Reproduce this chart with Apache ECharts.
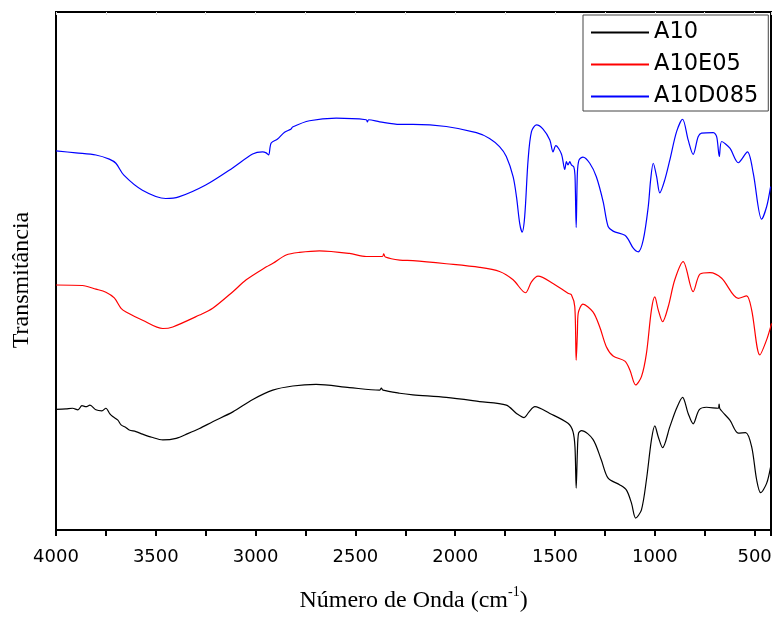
<!DOCTYPE html>
<html>
<head>
<meta charset="utf-8">
<script src="https://cdn.jsdelivr.net/npm/echarts@6/dist/echarts.min.js"></script>
<style>
html,body{margin:0;padding:0;background:#fff;}
#chart{width:774px;height:617px;}
</style>
</head>
<body>
<div id="chart"></div>
<script>
// Wavenumber (cm-1) and transmittance (arbitrary, offset)
const seriesNames = ['A10', 'A10E05', 'A10D085'];
const seriesColors = ['#000000', '#ff0000', '#0000ff'];
const xTickLabels = [4000, 3500, 3000, 2500, 2000, 1500, 1000, 500];

const a10Wn = [4000,3950,3917,3890,3870,3850,3830,3800,3770,3750,3730,3716,3690,3674,3650,3633,3600,3566,3520,3465,3398,3340,3281,3215,3114,3014,2914,2814,2697,2530,2379,2370,2362,2278,2212,2045,1878,1744,1693,1655,1630,1601,1526,1435,1410,1400,1394,1388,1382,1367,1310,1268,1234,1175,1142,1117,1096,1067,1042,1017,1000,983,961,925,891,861,833,808,778,741,683,678,674,624,582,545,515,490,470,440,420];
const a10T  = [23.3,23.4,23.5,23.2,24.0,23.8,24.1,23.2,23.0,23.5,22.4,21.9,21.2,20.3,19.8,19.3,19.0,18.5,17.9,17.4,17.7,18.6,19.6,20.9,22.8,25.2,27.0,27.8,28.1,27.5,27.0,27.4,27.0,26.4,26.1,25.6,24.8,24.1,22.5,21.7,22.8,23.8,22.5,20.6,19.0,16.0,8.1,15.0,18.7,19.2,17.5,13.5,10.0,8.7,7.7,5.2,2.3,3.9,9.7,17.4,20.1,18.0,15.9,19.9,23.5,25.6,22.5,20.5,23.2,23.7,23.5,24.3,23.4,21.2,18.7,18.8,16.1,9.7,7.2,9.0,12.2];

const a10e05Wn = [4000,3868,3800,3750,3708,3674,3649,3566,3465,3415,3281,3215,3114,3047,2946,2913,2847,2780,2680,2530,2446,2365,2358,2350,2278,2212,2045,1878,1778,1710,1648,1618,1585,1510,1435,1418,1401,1394,1388,1384,1360,1310,1276,1243,1209,1150,1125,1096,1067,1042,1017,1000,983,961,933,900,858,808,774,724,665,582,540,515,474,440,415];
const a10e05T  = [47.3,47.2,46.5,45.9,44.8,42.8,42.1,40.5,38.9,39.2,41.5,42.8,46.0,48.3,50.8,51.5,53.1,53.6,53.9,53.4,52.8,52.8,53.3,52.7,52.1,52.0,51.4,50.7,49.9,48.3,45.8,47.9,49.0,47.6,45.7,45.4,43.1,32.8,38.0,41.8,43.6,42.1,39.2,35.4,33.6,32.6,30.9,28.0,29.6,34.1,42.5,45.0,42.5,40.2,43.1,48.3,51.8,46.0,49.4,49.7,48.6,44.7,45.2,42.5,33.8,36.7,39.9];

const a10d085Wn = [4000,3900,3800,3733,3700,3660,3567,3450,3385,3250,3115,3015,2965,2947,2935,2922,2890,2855,2822,2815,2730,2596,2446,2440,2434,2378,2278,2212,2045,1894,1828,1778,1744,1710,1693,1677,1665,1652,1635,1618,1593,1560,1526,1510,1496,1468,1451,1443,1435,1426,1418,1406,1400,1394,1388,1380,1360,1326,1293,1259,1234,1209,1150,1133,1108,1083,1058,1033,1021,1008,991,975,950,925,891,861,833,808,783,766,707,690,677,665,624,582,536,507,465,440,420];
const a10d085T  = [73.2,72.8,72.4,71.6,70.8,68.5,65.6,64.0,64.3,66.6,69.9,72.6,73.0,72.8,72.4,74.7,75.5,76.8,77.4,77.8,79.0,79.5,79.2,78.8,79.2,78.8,78.3,78.3,77.9,76.7,75.6,74.0,72.1,68.2,64.3,59.2,57.5,60.5,71.4,76.9,78.2,77.4,75.3,73.0,74.2,72.6,69.6,71.1,70.5,71.1,70.5,70.1,68.5,58.4,68.9,71.4,72.0,70.8,68.2,63.4,58.6,57.7,56.9,56.1,54.4,53.7,56.0,62.4,67.6,70.8,68.2,65.1,67.6,71.4,76.9,79.3,75.3,72.5,75.9,76.6,76.7,75.9,72.1,75.0,73.7,70.9,73.0,68.9,60.0,62.4,66.3];

function pairs(xs, ys) { return xs.map((x, i) => [x, ys[i]]); }

const chart = echarts.init(document.getElementById('chart'), null, {renderer: 'canvas'});

const allWn = [a10Wn, a10e05Wn, a10d085Wn];
const allT = [a10T, a10e05T, a10d085T];

const series = seriesNames.map((name, i) => ({
  name: name,
  type: 'line',
  data: pairs(allWn[i], allT[i]),
  symbol: 'none',
  smooth: 0.3,
  lineStyle: {color: seriesColors[i], width: 1.2},
  itemStyle: {color: seriesColors[i]},
  z: 3
}));

chart.setOption({
  backgroundColor: '#ffffff',
  animation: false,
  grid: {left: 56, right: 3, top: 12, bottom: 87, show: true, borderColor: '#000', borderWidth: 2,
         containLabel: false, outerBoundsMode: 'none'},
  legend: {
    orient: 'vertical',
    left: 583, top: 15,
    padding: [6, 10, 3, 7],
    itemWidth: 58, itemHeight: 22, itemGap: 9, itemTextGap: 7,
    borderColor: '#444', borderWidth: 1, backgroundColor: '#fff',
    itemStyle: {opacity: 0, color: 'rgba(0,0,0,0)', borderWidth: 0},
    textStyle: {fontFamily: 'DejaVu Sans', fontSize: 22.5, color: '#000'},
    data: seriesNames.map(n => ({name: n}))
  },
  xAxis: [{
    type: 'value', inverse: true, min: 418, max: 4000, splitNumber: 7,
    name: '{a|Número de Onda (cm}{s|-1}{a|)}',
    nameLocation: 'middle', nameGap: 55,
    nameTextStyle: {rich: {
      a: {fontFamily: 'Liberation Serif', fontSize: 24, color: '#000', lineHeight: 28, verticalAlign: 'bottom'},
      s: {fontFamily: 'Liberation Serif', fontSize: 14, color: '#000', lineHeight: 28, verticalAlign: 'top', padding: [0, 0, 12, 0]}
    }},
    axisLine: {show: true, lineStyle: {color: '#000', width: 2}},
    axisTick: {show: true, inside: false, length: 6, lineStyle: {color: '#000', width: 2}},
    minorTick: {show: true, splitNumber: 2, length: 6, lineStyle: {color: '#000', width: 2}},
    splitLine: {show: false},
    axisLabel: {
      fontFamily: 'DejaVu Sans', fontSize: 18, color: '#000', margin: 18,
      formatter: v => (xTickLabels.indexOf(v) >= 0 ? String(v) : '')
    }
  }, {
    type: 'value', inverse: true, min: 418, max: 4000, splitNumber: 7, position: 'top',
    axisLine: {show: false},
    axisTick: {show: true, inside: true, length: 3, lineStyle: {color: '#ddd', width: 1}},
    minorTick: {show: true, splitNumber: 2, length: 3, lineStyle: {color: '#ddd', width: 1}},
    axisLabel: {show: false}, splitLine: {show: false}
  }],
  yAxis: {
    type: 'value', min: 0, max: 100,
    name: 'Transmitância', nameLocation: 'middle', nameGap: 22,
    nameTextStyle: {fontFamily: 'Liberation Serif', fontSize: 24, color: '#000', padding: [0, 18, 0, 0]},
    axisLine: {show: true, lineStyle: {color: '#000', width: 2}},
    axisTick: {show: false},
    axisLabel: {show: false},
    splitLine: {show: false}
  },
  series: series
});
</script>
</body>
</html>
